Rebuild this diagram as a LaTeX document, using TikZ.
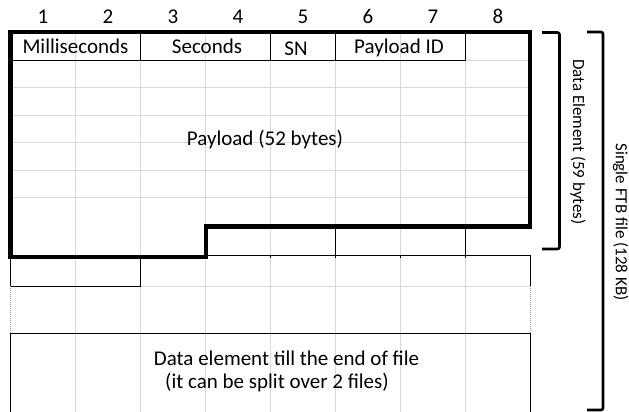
\documentclass[tikz,border=0pt]{standalone}
\usepackage{fontspec}
\setmainfont{Carlito}
\usepackage{xcolor}
\usepackage{tikz}
\usetikzlibrary{positioning}
\definecolor{gridgray}{HTML}{D9D9D9}
\definecolor{breakgray}{HTML}{9A9A9A}

\begin{document}
\begin{tikzpicture}[
  x=1pt, y=-1pt,
  grid/.style={gridgray, line width=0.9pt},
  cell/.style={black, line width=0.9pt},
  outline/.style={black, line width=4.5pt, line join=miter},
  bracket/.style={black, line width=2.6pt, rounded corners=2pt},
  pagebreak/.style={breakgray, line width=1pt, dash pattern=on 1pt off 1pt},
  txt/.style={font=\fontsize{21}{25}\selectfont, inner sep=0pt, anchor=base},
  side/.style={font=\fontsize{17}{20}\selectfont, inner sep=0pt, rotate=-90}
]
\useasboundingbox (0,0) rectangle (629,412);

% Byte numbers above the columns
\foreach \c in {1,...,8}
  \node[txt] (num\c) at ({65*\c-22}, 24) {\c};

% Light sheet grid
\foreach \x in {75.5,140.5,...,465.5}
  \draw[grid] (\x,31.8) -- (\x,412);
\foreach \y in {60.3,87.7,115,142.7,170.3,197.7}
  \draw[grid] (10.5,\y) -- (530,\y);
\draw[grid] (10.5,255) -- (206,255);
\draw[grid] (140.5,286) -- (530,286);

% Header fields
\draw[cell] (10.5,60.3) -- (465.5,60.3);
\foreach \x in {140.5,270.5,335.5,465.5}
  \draw[cell] (\x,31.8) -- (\x,60.3);

% Last row of the payload
\draw[cell] (206,255) -- (530,255);
\foreach \x in {335.5,465.5}
  \draw[cell] (\x,226.7) -- (\x,258);
\foreach \x in {270.5,400.5}
  \draw[cell] (\x,255) -- (\x,258);

% Rows after the data element
\draw[cell] (10.5,257) -- (10.5,286) -- (140.5,286) -- (140.5,257);
\draw[cell] (530,255) -- (530,286);
\draw[pagebreak] (10.5,286) -- (10.5,333);
\draw[pagebreak] (530,286) -- (530,333);
\draw[cell] (10.5,412) -- (10.5,333) -- (530,333) -- (530,412);

% Thick outline of one data element
\draw[outline] (10.5,31.8) -- (530,31.8) -- (530,226.7) -- (206,226.7)
  -- (206,257) -- (10.5,257) -- cycle;

% Field names
\node[txt] (msec) at (75.5,53) {Milliseconds};
\node[txt] (sec) at (207,53) {Seconds};
\node[txt] (sn) at (296,55.5) {SN};
\node[txt] (pid) at (399,53) {Payload ID};
\node[txt] (payload) at (265,145.5) {Payload (52 bytes)};
\node[txt] (rest1) at (286.5,365) {Data element till the end of file};
\node[txt] (rest2) at (277,388) {(it can be split over 2 files)};

% Brackets on the right
\draw[bracket] (542,32.5) -- (559.5,32.5) -- (559.5,249) -- (542,249);
\draw[bracket] (587,32) -- (603,32) -- (603,410) -- (587,410);
\node[side] (elem) at (578,142) {Data Element (59 bytes)};
\node[side] (file) at (620.5,222) {Single FTB file (128 KB)};
\end{tikzpicture}
\end{document}
